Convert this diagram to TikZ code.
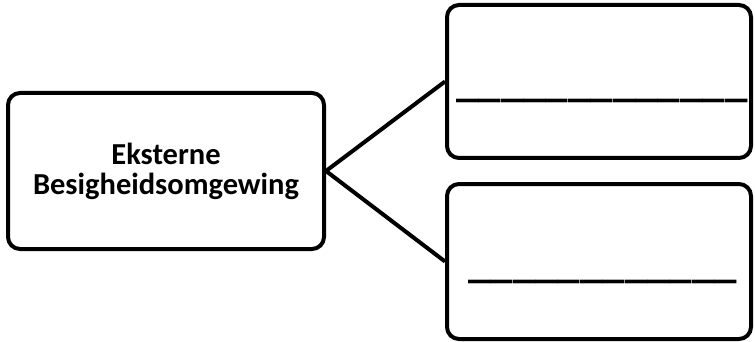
\documentclass[tikz,border=0pt]{standalone}
\usepackage{fontspec}
\setmainfont{Carlito}
\begin{document}
\begin{tikzpicture}[x=1pt,y=-1pt,
  boxstyle/.style={draw=black,line width=4pt,rounded corners=12pt,fill=white,inner sep=0pt},
  connstyle/.style={line width=4pt,black},
  blankstyle/.style={inner sep=0pt,font=\bfseries\fontsize{45}{50}\selectfont}]
\useasboundingbox (0,0) rectangle (755,342);
\node[boxstyle,minimum width=316pt,minimum height=156pt,align=center,
      font=\bfseries\fontsize{30.5}{30}\selectfont] (ext) at (166,171) {Eksterne\\Besigheidsomgewing};
\node[boxstyle,minimum width=304pt,minimum height=153pt] (top) at (599,81.5) {};
\node[boxstyle,minimum width=304pt,minimum height=155pt] (bot) at (599,261.5) {};
\draw[connstyle] (ext.east) -- (top.west);
\draw[connstyle] (ext.east) -- (bot.west);
\node[blankstyle,anchor=base west] (blank1) at (456,97) {\_\_\_\_\_\_\_\_\_\_\_\_\_};
\node[blankstyle,anchor=base west] (blank2) at (468,277) {\_\_\_\_\_\_\_\_\_\_\_\_};
\end{tikzpicture}
\end{document}
